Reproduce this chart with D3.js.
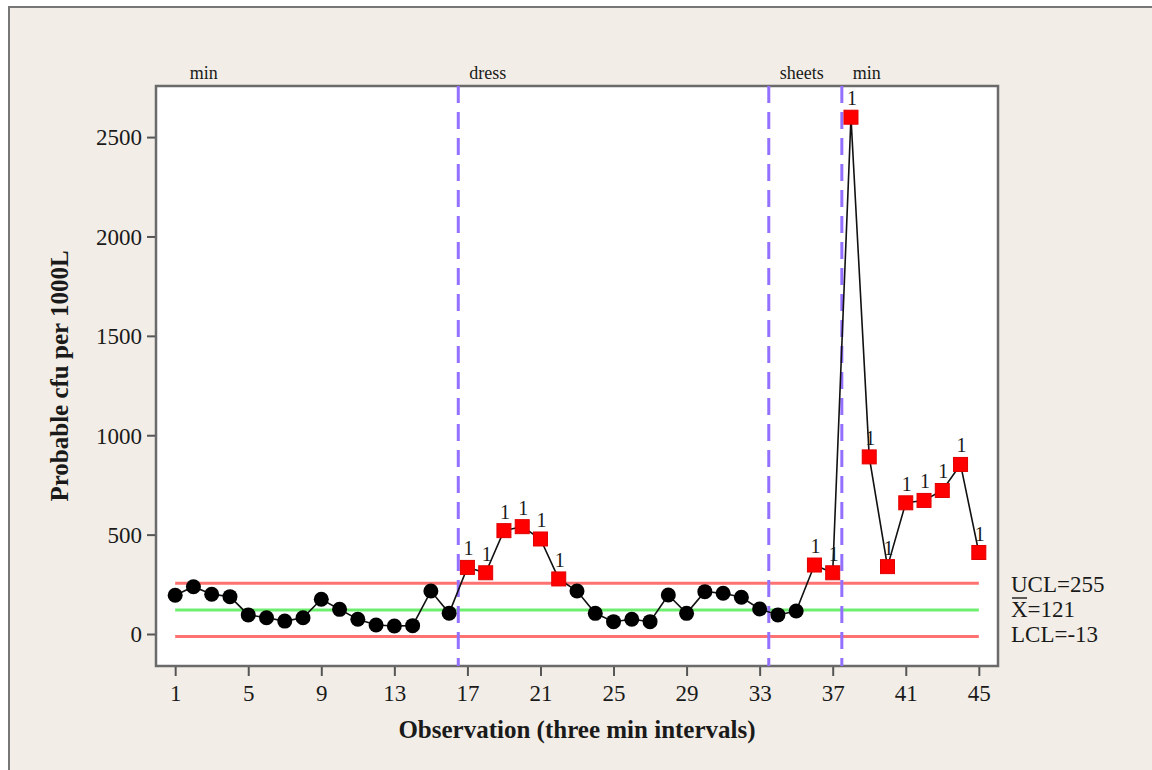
<!DOCTYPE html>
<html><head><meta charset="utf-8">
<script src="https://cdn.jsdelivr.net/npm/d3@7"></script>
<style>
html,body{margin:0;padding:0;background:#fff;}
svg{display:block;}
</style></head>
<body>
<svg id="c" width="1152" height="770"></svg>
<script>
// ---------- data ----------
const observations = d3.range(1, 46);
const values = [195, 238, 200, 188, 96, 82, 65, 82, 175, 124,
                74, 45, 40, 42, 216, 105, 335, 308, 520, 540,
                478, 277, 216, 104, 62, 74, 62, 196, 104, 213,
                205, 185, 126, 96, 116, 347, 308, 2600, 891, 339,
                660, 672, 722, 853, 410];
const UCL = 255, CL = 121, LCL = -13;
const stageBreaks = [16.5, 33.5, 37.5];
const stageNames = ["min", "dress", "sheets", "min"];
const stageLabelPos = [1.8, 17.1, 34.1, 38.1];
const xTicks = [1, 5, 9, 13, 17, 21, 25, 29, 33, 37, 41, 45];
const yTicks = [0, 500, 1000, 1500, 2000, 2500];
const limitLabels = ["UCL=255", "X=121", "LCL=-13"];
const limitValues = [UCL, CL, LCL];

// ---------- layout ----------
const svg = d3.select("#c");
const L = 156, R = 998, T = 86, B = 666;
const serif = "'Liberation Serif','Times New Roman',serif";
const ink = "#1a1a1a";

svg.append("rect").attr("x", 8).attr("y", 6).attr("width", 1144).attr("height", 764).attr("fill", "#F2EEE7");
svg.append("line").attr("x1", 9).attr("x2", 9).attr("y1", 6).attr("y2", 770).attr("stroke", "#777").attr("stroke-width", 2);
svg.append("line").attr("x1", 8).attr("x2", 1152).attr("y1", 7).attr("y2", 7).attr("stroke", "#777").attr("stroke-width", 2);

const x = d3.scaleLinear().domain([-0.05, 46.05]).range([L, R]);
const y = d3.scaleLinear().domain([-161, 2757]).range([B, T]);

svg.append("rect").attr("x", L).attr("y", T).attr("width", R - L).attr("height", B - T)
  .attr("fill", "#fff").attr("stroke", "#6a6a6a").attr("stroke-width", 2.5);

// axes
const xAxis = svg.append("g").attr("transform", `translate(0,${B + 1})`)
  .call(d3.axisBottom(x).tickValues(xTicks).tickSize(9).tickPadding(9).tickFormat(d3.format("d")));
const yAxis = svg.append("g").attr("transform", `translate(${L - 1},0)`)
  .call(d3.axisLeft(y).tickValues(yTicks).tickSize(8).tickPadding(5).tickFormat(d3.format("d")));
[xAxis, yAxis].forEach(g => {
  g.select(".domain").remove();
  g.selectAll(".tick line").attr("stroke", "#555").attr("stroke-width", 2);
  g.selectAll(".tick text").attr("fill", ink).style("font-family", serif).style("font-size", "23px");
});
yAxis.selectAll(".tick text").attr("dy", "0.34em");

// control limits
const limitColors = ["#FF7272", "#6EEE6E", "#FF7272"];
limitValues.forEach((v, i) => {
  svg.append("line").attr("x1", x(1)).attr("x2", x(45)).attr("y1", y(v)).attr("y2", y(v))
    .attr("stroke", limitColors[i]).attr("stroke-width", 3);
});
const limBase = [592, 617, 642];
limitLabels.forEach((t, i) => {
  svg.append("text").attr("x", 1011).attr("y", limBase[i]).text(t)
    .style("font-family", serif).style("font-size", "23px").attr("fill", ink);
});
svg.append("line").attr("x1", 1012).attr("x2", 1027).attr("y1", 598).attr("y2", 598).attr("stroke", ink).attr("stroke-width", 1.4);

// stage dividers
stageBreaks.forEach(b => {
  svg.append("line").attr("x1", x(b)).attr("x2", x(b)).attr("y1", T).attr("y2", B)
    .attr("stroke", "#9370FF").attr("stroke-width", 3).attr("stroke-dasharray", "17,9");
});
stageNames.forEach((n, i) => {
  svg.append("text").attr("x", x(stageLabelPos[i])).attr("y", 79).text(n)
    .style("font-family", serif).style("font-size", "18px").attr("fill", ink);
});

// data line
const pts = observations.map((o, i) => ({o, v: values[i], out: values[i] > UCL || values[i] < LCL}));
svg.append("path").datum(pts)
  .attr("d", d3.line().x(d => x(d.o)).y(d => y(d.v)))
  .attr("fill", "none").attr("stroke", "#111").attr("stroke-width", 1.6);

svg.selectAll("circle.pt").data(pts.filter(d => !d.out)).enter().append("circle")
  .attr("cx", d => x(d.o)).attr("cy", d => y(d.v)).attr("r", 7.5).attr("fill", "#000");

const s = 14;
svg.selectAll("rect.pt").data(pts.filter(d => d.out)).enter().append("rect")
  .attr("x", d => x(d.o) - s / 2).attr("y", d => y(d.v) - s / 2).attr("width", s).attr("height", s)
  .attr("fill", "#FF0000").attr("stroke", "#E00000").attr("stroke-width", 1);

svg.selectAll("text.flag").data(pts.filter(d => d.out)).enter().append("text")
  .attr("x", d => x(d.o) + 1).attr("y", d => y(d.v) - 12).attr("text-anchor", "middle").text("1")
  .style("font-family", serif).style("font-size", "20px").attr("fill", ink);

// axis titles
svg.append("text").attr("x", (L + R) / 2).attr("y", 738).attr("text-anchor", "middle")
  .text("Observation (three min intervals)")
  .style("font-family", serif).style("font-size", "25px").style("font-weight", "bold").attr("fill", ink);
svg.append("text").attr("transform", "translate(68,376) rotate(-90)").attr("text-anchor", "middle")
  .text("Probable cfu per 1000L")
  .style("font-family", serif).style("font-size", "25px").style("font-weight", "bold").attr("fill", ink);
</script>
</body></html>
